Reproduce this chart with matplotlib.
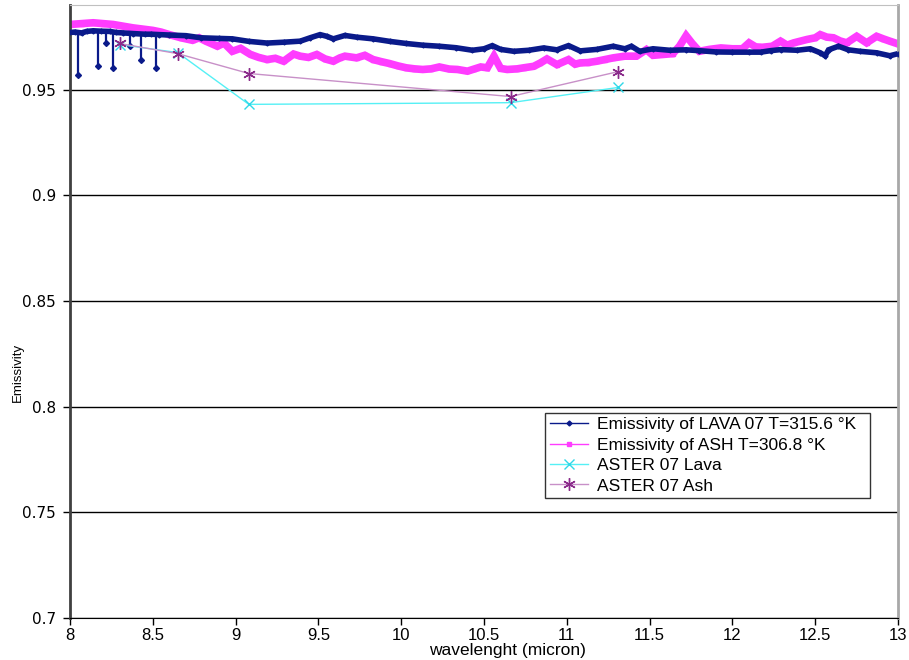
import numpy as np
import matplotlib
matplotlib.use('Agg')
import matplotlib.pyplot as plt

plt.rcParams['font.family'] = ['Liberation Sans', 'DejaVu Sans']

# lava spectrum
lava_wl = [8.00, 8.03, 8.07, 8.10, 8.14, 8.19, 8.24, 8.28, 8.32, 8.38, 8.45, 8.49,
           8.54, 8.60, 8.70, 8.79, 8.90, 8.98, 9.08, 9.19, 9.29, 9.39, 9.45, 9.51,
           9.55, 9.59, 9.66, 9.73, 9.83, 9.93, 10.03, 10.13, 10.23, 10.33, 10.43,
           10.50, 10.55, 10.60, 10.68, 10.77, 10.86, 10.94, 11.01, 11.08, 11.18,
           11.28, 11.35, 11.39, 11.44, 11.52, 11.62, 11.72, 11.80, 11.90, 12.00,
           12.10, 12.17, 12.23, 12.29, 12.39, 12.47, 12.53, 12.56, 12.58, 12.64,
           12.70, 12.77, 12.87, 12.95, 13.00]
lava_em = [0.9770, 0.9772, 0.9768, 0.9775, 0.9778, 0.9776, 0.9775, 0.9770, 0.9768,
           0.9765, 0.9762, 0.9762, 0.9760, 0.9758, 0.9755, 0.9745, 0.9742, 0.9740,
           0.9728, 0.9720, 0.9724, 0.9729, 0.9745, 0.9760, 0.9752, 0.9740, 0.9756,
           0.9748, 0.9740, 0.9728, 0.9718, 0.9710, 0.9705, 0.9698, 0.9686, 0.9693,
           0.9708, 0.9690, 0.9681, 0.9686, 0.9697, 0.9688, 0.9708, 0.9683, 0.9690,
           0.9705, 0.9693, 0.9705, 0.9681, 0.9693, 0.9686, 0.9688, 0.9684, 0.9678,
           0.9677, 0.9677, 0.9677, 0.9684, 0.9689, 0.9686, 0.9693, 0.9674, 0.9660,
           0.9688, 0.9705, 0.9688, 0.9681, 0.9674, 0.9660, 0.9670]

# narrow dips in the lava spectrum below 8.6 micron
dip_wl = [8.05, 8.17, 8.22, 8.26, 8.36, 8.43, 8.52]
dip_top = [0.9770, 0.9777, 0.9776, 0.9773, 0.9766, 0.9763, 0.9761]
dip_low = [0.9570, 0.9610, 0.9720, 0.9603, 0.9708, 0.9642, 0.9603]

# ash spectrum
ash_wl = [8.00, 8.07, 8.14, 8.20, 8.26, 8.32, 8.38, 8.44, 8.50, 8.55, 8.60, 8.67,
          8.74, 8.78, 8.82, 8.89, 8.93, 8.98, 9.03, 9.09, 9.14, 9.19, 9.24, 9.29,
          9.35, 9.39, 9.44, 9.49, 9.54, 9.59, 9.63, 9.66, 9.73, 9.78, 9.83, 9.88,
          9.93, 9.98, 10.03, 10.08, 10.13, 10.18, 10.23, 10.29, 10.34, 10.40, 10.44,
          10.48, 10.52, 10.56, 10.60, 10.64, 10.70, 10.74, 10.80, 10.84, 10.88,
          10.94, 11.01, 11.05, 11.08, 11.13, 11.18, 11.23, 11.28, 11.35, 11.42,
          11.48, 11.52, 11.58, 11.64, 11.68, 11.72, 11.76, 11.80, 11.86, 11.93,
          12.00, 12.06, 12.10, 12.14, 12.18, 12.24, 12.29, 12.33, 12.37, 12.45,
          12.50, 12.53, 12.57, 12.61, 12.65, 12.69, 12.75, 12.81, 12.87, 12.91,
          12.95, 13.00]
ash_em = [0.9808, 0.9812, 0.9816, 0.9812, 0.9808, 0.9800, 0.9792, 0.9786, 0.9780,
          0.9772, 0.9760, 0.9745, 0.9733, 0.9745, 0.9729, 0.9705, 0.9720, 0.9681,
          0.9695, 0.9666, 0.9652, 0.9642, 0.9648, 0.9634, 0.9668, 0.9658, 0.9652,
          0.9666, 0.9645, 0.9634, 0.9650, 0.9658, 0.9650, 0.9662, 0.9642, 0.9632,
          0.9623, 0.9612, 0.9603, 0.9598, 0.9595, 0.9598, 0.9607, 0.9597, 0.9595,
          0.9587, 0.9597, 0.9607, 0.9603, 0.9658, 0.9600, 0.9595, 0.9598, 0.9603,
          0.9610, 0.9626, 0.9645, 0.9618, 0.9642, 0.9620, 0.9626, 0.9628, 0.9634,
          0.9642, 0.9650, 0.9658, 0.9658, 0.9689, 0.9662, 0.9666, 0.9670, 0.9705,
          0.9755, 0.9715, 0.9681, 0.9690, 0.9697, 0.9693, 0.9693, 0.9721, 0.9702,
          0.9700, 0.9705, 0.9729, 0.9710, 0.9721, 0.9737, 0.9745, 0.9760, 0.9748,
          0.9745, 0.9730, 0.9721, 0.9752, 0.9721, 0.9752, 0.9740, 0.9729, 0.9716]

# ASTER band values
aster_wl = [8.30, 8.65, 9.08, 10.66, 11.31]
aster_lava = [0.9713, 0.9675, 0.9430, 0.9438, 0.9510]
aster_ash = [0.9718, 0.9670, 0.9576, 0.9467, 0.9585]

xticks = [8, 8.5, 9, 9.5, 10, 10.5, 11, 11.5, 12, 12.5, 13]
yticks = [0.7, 0.75, 0.8, 0.85, 0.9, 0.95]
ytick_labels = ['0.7', '0.75', '0.8', '0.85', '0.9', '0.95']

navy = '#0a1a8a'
pink = '#ff3cff'

fig = plt.figure(figsize=(9.09, 6.6), dpi=100)
ax = fig.add_axes([0.077, 0.0636, 0.911, 0.9288])

for y in yticks:
    ax.axhline(y, color='black', lw=1.0, zorder=0)

# thick bands (dense measurements)
ax.plot(lava_wl, lava_em, color=navy, lw=4.0, solid_joinstyle='miter', zorder=2)
ax.vlines(dip_wl, dip_low, dip_top, color=navy, lw=1.6, zorder=2)
ax.plot(dip_wl, dip_low, 'D', color=navy, ms=3, zorder=2)
ax.plot(ash_wl, ash_em, color=pink, lw=5.5, solid_joinstyle='miter', zorder=1)

l1, = ax.plot(lava_wl, lava_em, color=navy, lw=1, marker='D', ms=2.5,
              label='Emissivity of LAVA 07 T=315.6 °K', zorder=3)
l2, = ax.plot(ash_wl, ash_em, color=pink, lw=1, marker='s', ms=3,
              label='Emissivity of ASH T=306.8 °K', zorder=1)
l3, = ax.plot(aster_wl, aster_lava, color='#55f0f5', lw=1, marker='x', ms=7,
              mew=1, mec='#30d8e8', label='ASTER 07 Lava', zorder=4)
l4, = ax.plot(aster_wl, aster_ash, color='#c890c8', lw=1, marker=(6, 2, 0), ms=9,
              mew=1, mec='#8a2a8a', label='ASTER 07 Ash', zorder=4)

ax.set_xlim(8, 13)
ax.set_ylim(0.7, 0.99)
ax.set_xticks(xticks)
ax.set_xticklabels([f'{t:g}' for t in xticks], fontsize=12)
ax.set_yticks(yticks)
ax.set_yticklabels(ytick_labels, fontsize=11, family='DejaVu Sans')
ax.tick_params(axis='both', direction='out', length=5, width=1, color='black')
ax.tick_params(axis='x', pad=2)
ax.tick_params(axis='y', pad=5)

ax.spines['left'].set_color('#404040')
ax.spines['left'].set_linewidth(2)
ax.spines['bottom'].set_color('black')
ax.spines['right'].set_color('#a8a8a8')
ax.spines['right'].set_linewidth(2)
ax.spines['top'].set_color('#c0c0c0')

fig.text(18 / 909, 1 - 372 / 660, 'Emissivity', rotation=90, fontsize=9.5,
         ha='center', va='center')
fig.text(507 / 909, 1 - 651 / 660, 'wavelenght (micron)', fontsize=12.5,
         ha='center', va='center')

leg = ax.legend(handles=[l1, l2, l3, l4], loc='lower left',
                bbox_to_anchor=(0.574, 0.196, 0.392, 0.14), mode='expand',
                fontsize=12.5, frameon=True,
                fancybox=False, edgecolor='black', borderpad=0.25,
                labelspacing=0.3, handlelength=2.2, handletextpad=0.5,
                borderaxespad=0)
leg.get_frame().set_linewidth(1.0)

fig.savefig('out.png', dpi=100)
